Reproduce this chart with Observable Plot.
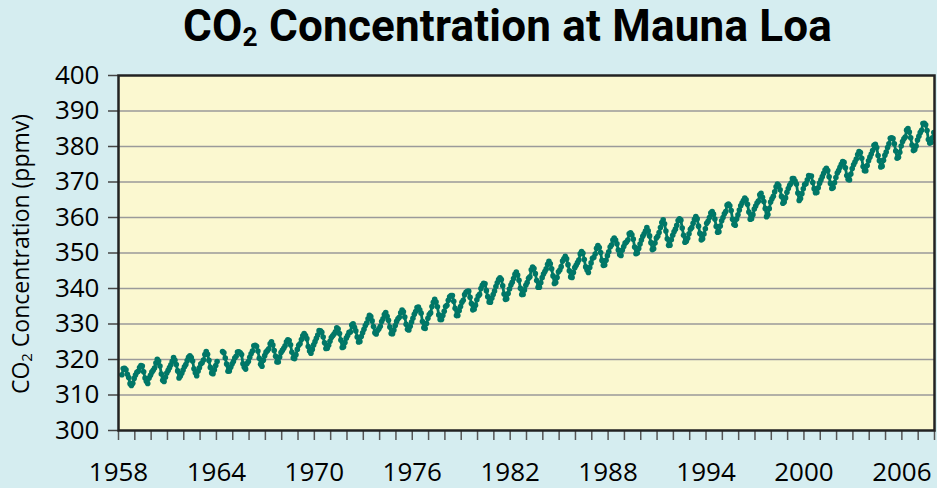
<!DOCTYPE html>
<html>
<head>
<meta charset="utf-8">
<script src="https://cdn.jsdelivr.net/npm/d3@7"></script>
<script src="https://cdn.jsdelivr.net/npm/@observablehq/plot@0.6"></script>
<style>
  html, body { margin: 0; padding: 0; background: #d5edf0; }
  #wrap { position: relative; width: 937px; height: 488px; overflow: hidden; background: #d5edf0; }
  #title { position: absolute; left: 183px; top: 0px; white-space: nowrap;
    font-family: Roboto, "Open Sans", sans-serif; font-weight: 700; font-size: 44px; line-height: normal; color: #000; }
  #title sub { font-size: 0.6em; vertical-align: -0.2em; line-height: 1; }
  #ylabel { position: absolute; left: -140px; top: 238px; width: 320px; height: 32px; line-height: 32px; text-align: center;
    transform: rotate(-90deg); transform-origin: 160px 16px; white-space: nowrap;
    font-family: "Open Sans", sans-serif; font-size: 23px; color: #000; }
  #ylabel sub { font-size: 0.65em; vertical-align: -0.2em; line-height: 1; }
  #chart { position: absolute; left: 0; top: 0; }
</style>
</head>
<body>
<div id="wrap">
  <div id="chart"></div>
  <div id="title">CO<sub>2</sub> Concentration at Mauna Loa</div>
  <div id="ylabel">CO<sub>2</sub> Concentration (ppmv)</div>
</div>
<script>
// Monthly CO2 (ppmv), Jan..Dec of each year; null = missing
const co2_1958_1959 = [
  null, null, 315.71, 317.45, 317.50, 317.10, 315.86, 314.93, 313.20, 312.66, 313.33, 314.67,
  315.62, 316.38, 316.71, 317.72, 318.29, 318.15, 316.54, 314.80, 313.84, 313.26, 314.80, 315.58
];
const co2_1960s = [
  316.43, 316.97, 317.58, 319.02, 320.03, 319.59, 318.18, 315.91, 314.16, 313.83, 315.00, 316.19,
  316.93, 317.70, 318.54, 319.48, 320.58, 319.77, 318.57, 316.79, 314.80, 315.38, 316.10, 317.01,
  317.94, 318.56, 319.68, 320.63, 321.01, 320.55, 319.58, 317.40, 316.26, 315.42, 316.69, 317.69,
  318.74, 319.08, 319.86, 321.39, 322.25, 321.47, 319.74, 317.77, 316.21, 315.99, 317.12, 318.31,
  319.43, null, null, null, 322.23, 321.89, 320.44, 318.70, 316.70, 316.79, 317.79, 318.71,
  319.44, 320.44, 320.89, 322.13, 322.16, 321.87, 321.39, 318.81, 317.81, 317.30, 318.87, 319.42,
  320.62, 321.59, 322.39, 323.87, 324.01, 323.75, 322.39, 320.37, 318.64, 318.10, 319.79, 321.08,
  322.07, 322.50, 323.04, 324.42, 325.00, 324.09, 322.55, 320.92, 319.31, 319.31, 320.72, 321.96,
  322.57, 323.15, 323.89, 325.02, 325.57, 325.36, 324.14, 322.03, 320.41, 320.25, 321.31, 322.84,
  324.00, 324.42, 325.64, 326.66, 327.34, 326.76, 325.88, 323.67, 322.38, 321.78, 322.85, 324.11
];
const co2_1970s = [
  325.03, 325.99, 326.87, 328.13, 328.07, 327.66, 326.35, 324.69, 323.10, 323.16, 323.98, 325.13,
  326.17, 326.68, 327.18, 327.78, 328.92, 328.57, 327.34, 325.46, 323.36, 323.57, 324.80, 326.01,
  326.77, 327.63, 327.75, 329.72, 330.07, 329.09, 328.05, 326.32, 324.93, 325.06, 326.50, 327.55,
  328.54, 329.56, 330.30, 331.50, 332.48, 332.07, 330.87, 329.31, 327.51, 327.18, 328.16, 328.64,
  329.35, 330.71, 331.48, 332.65, 333.20, 332.16, 331.07, 329.12, 327.32, 327.28, 328.30, 329.58,
  330.73, 331.46, 331.90, 333.17, 333.94, 333.45, 331.97, 329.95, 328.50, 328.34, 329.37, 330.58,
  331.59, 332.75, 333.52, 334.64, 334.77, 334.00, 333.06, 330.68, 328.95, 328.75, 330.15, 331.62,
  332.66, 333.13, 334.95, 336.13, 336.93, 336.17, 334.88, 332.56, 331.29, 331.27, 332.41, 333.60,
  334.95, 335.25, 336.66, 337.69, 338.03, 338.01, 336.41, 334.41, 332.37, 332.41, 333.75, 334.90,
  336.14, 336.69, 338.27, 338.96, 339.21, 339.26, 337.54, 335.75, 333.98, 334.19, 335.31, 336.81
];
const co2_1980s = [
  337.90, 338.34, 340.01, 340.93, 341.48, 341.33, 339.40, 337.70, 336.19, 336.15, 337.27, 338.32,
  339.29, 340.55, 341.61, 342.53, 343.03, 342.54, 340.78, 338.44, 336.95, 337.08, 338.58, 339.88,
  340.96, 341.73, 342.81, 343.97, 344.63, 343.79, 342.32, 340.09, 338.28, 338.29, 339.60, 340.90,
  341.68, 342.90, 343.33, 345.25, 346.03, 345.63, 344.19, 342.27, 340.35, 340.38, 341.59, 343.05,
  344.10, 344.79, 345.52, 346.84, 347.63, 346.98, 345.53, 343.55, 341.40, 341.67, 343.10, 344.70,
  345.21, 346.16, 347.74, 348.34, 349.06, 348.38, 346.72, 345.02, 343.27, 343.13, 344.49, 345.88,
  346.56, 347.28, 348.01, 349.77, 350.38, 349.93, 348.16, 346.08, 345.22, 344.51, 345.93, 347.21,
  348.52, 348.73, 349.73, 351.31, 352.09, 351.53, 350.11, 347.92, 346.52, 346.59, 347.96, 349.26,
  350.33, 351.69, 352.24, 353.66, 354.18, 353.68, 352.58, 350.83, 349.56, 349.33, 350.81, 351.83,
  352.77, 353.07, 353.68, 355.42, 355.67, 355.13, 353.90, 351.67, 349.80, 349.99, 351.30, 352.53
];
const co2_1990s = [
  353.66, 354.70, 355.39, 356.20, 357.16, 356.22, 354.82, 352.91, 350.96, 351.18, 352.83, 354.21,
  354.72, 355.75, 357.16, 358.60, 359.34, 358.24, 356.17, 354.03, 352.16, 352.21, 353.75, 354.99,
  355.99, 356.72, 357.81, 359.15, 359.66, 359.25, 357.02, 355.00, 353.01, 353.31, 354.16, 355.40,
  356.70, 357.17, 358.38, 359.46, 360.28, 359.60, 357.57, 355.52, 353.70, 353.98, 355.33, 356.80,
  358.36, 358.91, 359.97, 361.26, 361.68, 360.95, 359.55, 357.49, 355.84, 356.00, 357.59, 359.05,
  359.98, 361.03, 361.66, 363.48, 363.82, 363.30, 361.94, 359.50, 358.11, 357.80, 359.61, 360.74,
  362.09, 363.29, 364.06, 364.76, 365.45, 365.01, 363.70, 361.54, 359.51, 359.65, 360.80, 362.38,
  363.23, 364.06, 364.61, 366.40, 366.84, 365.68, 364.52, 362.57, 360.24, 360.83, 362.49, 364.34,
  365.27, 365.98, 367.24, 368.66, 369.42, 368.99, 367.82, 365.95, 364.02, 364.40, 365.52, 367.13,
  368.18, 369.07, 369.68, 370.99, 370.96, 370.30, 369.45, 366.90, 364.81, 365.37, 366.72, 368.10
];
const co2_2000s = [
  369.29, 369.54, 370.60, 371.82, 371.58, 371.70, 369.86, 368.13, 367.00, 367.03, 368.37, 369.67,
  370.59, 371.51, 372.43, 373.37, 373.85, 373.22, 371.50, 369.61, 368.18, 368.45, 369.76, 371.24,
  372.53, 373.20, 374.12, 375.02, 375.76, 375.52, 374.01, 371.85, 370.75, 370.55, 372.25, 373.79,
  374.88, 375.64, 376.45, 377.73, 378.60, 378.28, 376.70, 374.38, 373.17, 373.15, 374.66, 375.99,
  377.00, 377.87, 378.88, 380.35, 380.62, 379.69, 377.47, 376.01, 374.25, 374.46, 376.16, 377.51,
  378.46, 379.73, 380.77, 382.29, 382.45, 382.21, 380.74, 378.74, 376.70, 377.00, 378.35, 380.11,
  381.38, 382.19, 382.67, 384.61, 385.03, 384.05, 382.46, 380.41, 378.85, 379.13, 380.15, 381.82,
  382.89, 383.90, 384.58, 386.50, 386.56, 386.10, 384.50, 381.99, 380.96, 381.12, 382.45, 383.95
];
const seriesStarts = [1958, 1960, 1970, 1980, 1990, 2000];
const seriesBlocks = [co2_1958_1959, co2_1960s, co2_1970s, co2_1980s, co2_1990s, co2_2000s];

const yTicks = [300, 310, 320, 330, 340, 350, 360, 370, 380, 390, 400];
const xTickYears = d3.range(1958, 2009);
const xLabelYears = [1958, 1964, 1970, 1976, 1982, 1988, 1994, 2000, 2006];

const data = [];
seriesBlocks.forEach((block, b) => {
  block.forEach((v, i) => {
    data.push({ t: seriesStarts[b] + Math.floor(i / 12) + ((i % 12) + 0.5) / 12, co2: v });
  });
});

const teal = "#007767";
const chart = Plot.plot({
  width: 937,
  height: 488,
  marginLeft: 118,
  marginRight: 3,
  marginTop: 75,
  marginBottom: 58,
  style: { background: "transparent", fontFamily: "'Open Sans', sans-serif", fontSize: "26px", color: "#000", overflow: "visible" },
  x: { domain: [1958, 2008] },
  y: { domain: [300, 400] },
  marks: [
    Plot.frame({ fill: "#fbf8d0" }),
    Plot.gridY(yTicks.slice(1, -1), { stroke: "#9a9a9a", strokeOpacity: 1, strokeWidth: 1.6 }),
    Plot.axisY(yTicks, { tickSize: 10, tickPadding: 9, stroke: "#444", strokeWidth: 1.5, label: null, fontSize: 26 }),
    Plot.axisX(xTickYears, { tickSize: 10, tickPadding: 22, stroke: "#555", strokeWidth: 1.5, label: null, fontSize: 26,
      tickFormat: d => xLabelYears.includes(d) ? String(d) : "" }),
    Plot.line(data, { x: "t", y: "co2", stroke: teal, strokeWidth: 2.8, clip: true }),
    Plot.dot(data.filter(d => d.co2 != null), { x: "t", y: "co2", r: 2.8, fill: teal, stroke: "none", clip: true }),
    Plot.frame({ stroke: "#222", strokeWidth: 2.5 })
  ]
});
document.getElementById("chart").appendChild(chart);

// fit title to the reference width (183..832) with letter spacing instead of a transform
const titleEl = document.getElementById("title");
const w = titleEl.offsetWidth;
const nChars = titleEl.textContent.length;
titleEl.style.letterSpacing = `${(649 - w) / nChars}px`;
</script>
</body>
</html>
